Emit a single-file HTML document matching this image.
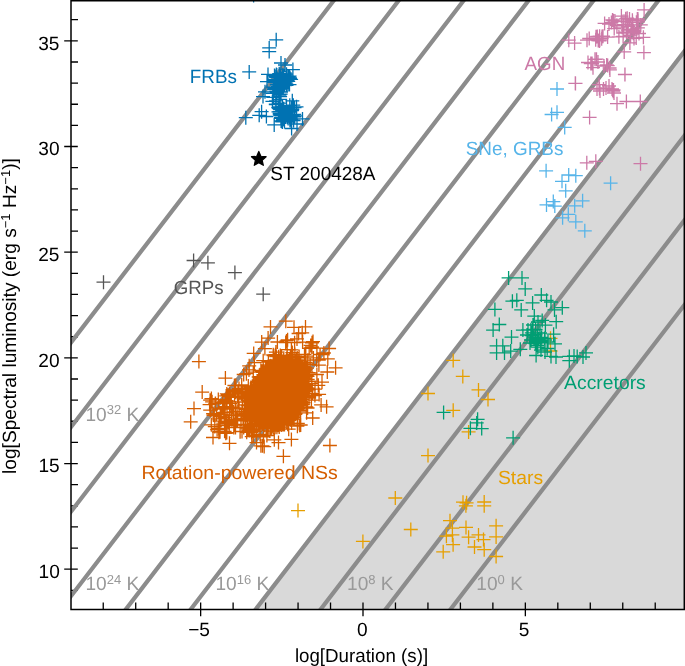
<!DOCTYPE html>
<html><head><meta charset="utf-8"><style>
html,body{margin:0;padding:0;background:#fff;width:685px;height:666px;overflow:hidden;font-family:"Liberation Sans",sans-serif;}
svg{display:block;will-change:transform}
</style></head><body>
<svg width="685" height="666" viewBox="0 0 685 666" style="text-rendering:geometricPrecision">
<defs><clipPath id="ax"><rect x="71.0" y="0.7" width="613.3" height="608.6999999999999"/></clipPath></defs>
<rect x="0" y="0" width="685" height="666" fill="#fff"/>
<path d="M255.65,609.40L684.30,51.40L684.3,51.40L684.3,609.4Z" fill="#d9d9d9" clip-path="url(#ax)"/>
<path d="M71.0,590.33H78.0M64.2,569.20H77.8M71.0,548.07H78.0M71.0,526.93H78.0M71.0,505.80H78.0M71.0,484.66H78.0M64.2,463.53H77.8M71.0,442.40H78.0M71.0,421.26H78.0M71.0,400.13H78.0M71.0,378.99H78.0M64.2,357.86H77.8M71.0,336.73H78.0M71.0,315.59H78.0M71.0,294.46H78.0M71.0,273.32H78.0M64.2,252.19H77.8M71.0,231.06H78.0M71.0,209.92H78.0M71.0,188.79H78.0M71.0,167.65H78.0M64.2,146.52H77.8M71.0,125.39H78.0M71.0,104.25H78.0M71.0,83.12H78.0M71.0,61.98H78.0M64.2,40.85H77.8M71.0,19.72H78.0M103.24,609.4V602.4M135.71,609.4V602.4M168.18,609.4V602.4M200.65,602.6V616.2M233.12,609.4V602.4M265.59,609.4V602.4M298.06,609.4V602.4M330.53,609.4V602.4M363.00,602.6V616.2M395.47,609.4V602.4M427.94,609.4V602.4M460.41,609.4V602.4M492.88,609.4V602.4M525.35,602.6V616.2M557.82,609.4V602.4M590.29,609.4V602.4M622.76,609.4V602.4M655.23,609.4V602.4" stroke="#000" stroke-width="1.3" fill="none"/>
<path d="M38.53,1145.65L716.77,262.74M38.53,1061.11L716.77,178.21M38.53,976.58L716.77,93.67M38.53,892.04L716.77,9.14M38.53,807.50L716.77,-75.40M38.53,722.97L716.77,-159.94M38.53,638.43L716.77,-244.47M38.53,553.90L716.77,-329.01M38.53,469.36L716.77,-413.54M38.53,384.82L716.77,-498.08" stroke="#8c8c8c" stroke-width="4.2" fill="none" clip-path="url(#ax)"/>
<path d="M269.2,39.8h14M276.2,32.8v14M262.2,47.9h14M269.2,40.9v14M262.2,51.6h14M269.2,44.6v14M242.2,71.9h14M249.2,64.9v14M246.6,-4.5h14M253.6,-11.5v14M238.8,117.7h14M245.8,110.7v14M281.7,77.5h14M288.7,70.5v14M273.0,75.9h14M280.0,68.9v14M276.8,75.4h14M283.8,68.4v14M268.4,79.5h14M275.4,72.5v14M276.7,75.6h14M283.7,68.6v14M276.5,78.3h14M283.5,71.3v14M275.6,75.2h14M282.6,68.2v14M279.7,75.8h14M286.7,68.8v14M272.5,87.5h14M279.5,80.5v14M266.1,87.1h14M273.1,80.1v14M282.5,84.6h14M289.5,77.6v14M269.4,74.5h14M276.4,67.5v14M273.9,86.3h14M280.9,79.3v14M277.0,84.0h14M284.0,77.0v14M270.4,80.9h14M277.4,73.9v14M279.5,85.4h14M286.5,78.4v14M281.3,76.5h14M288.3,69.5v14M282.6,76.2h14M289.6,69.2v14M281.2,81.3h14M288.2,74.3v14M269.5,81.8h14M276.5,74.8v14M275.8,87.4h14M282.8,80.4v14M268.9,76.4h14M275.9,69.4v14M276.2,75.4h14M283.2,68.4v14M272.2,73.7h14M279.2,66.7v14M279.5,74.2h14M286.5,67.2v14M281.0,84.6h14M288.0,77.6v14M273.0,83.2h14M280.0,76.2v14M280.5,80.2h14M287.5,73.2v14M267.2,82.4h14M274.2,75.4v14M272.2,82.2h14M279.2,75.2v14M274.0,87.3h14M281.0,80.3v14M269.8,84.5h14M276.8,77.5v14M279.3,81.3h14M286.3,74.3v14M267.5,75.5h14M274.5,68.5v14M269.1,77.3h14M276.1,70.3v14M276.2,80.8h14M283.2,73.8v14M275.4,75.8h14M282.4,68.8v14M277.5,85.0h14M284.5,78.0v14M267.8,80.6h14M274.8,73.6v14M273.7,84.9h14M280.7,77.9v14M284.1,79.3h14M291.1,72.3v14M270.6,86.2h14M277.6,79.2v14M273.5,75.7h14M280.5,68.7v14M278.9,80.8h14M285.9,73.8v14M270.7,79.2h14M277.7,72.2v14M279.1,77.9h14M286.1,70.9v14M267.3,79.9h14M274.3,72.9v14M269.7,82.3h14M276.7,75.3v14M269.8,75.0h14M276.8,68.0v14M283.0,78.0h14M290.0,71.0v14M271.6,81.1h14M278.6,74.1v14M279.2,83.1h14M286.2,76.1v14M281.2,76.9h14M288.2,69.9v14M274.1,78.5h14M281.1,71.5v14M275.8,81.6h14M282.8,74.6v14M271.9,89.2h14M278.9,82.2v14M269.1,100.8h14M276.1,93.8v14M265.4,101.4h14M272.4,94.4v14M272.5,95.2h14M279.5,88.2v14M269.9,92.8h14M276.9,85.8v14M273.1,96.6h14M280.1,89.6v14M267.9,88.5h14M274.9,81.5v14M268.8,104.6h14M275.8,97.6v14M272.4,99.3h14M279.4,92.3v14M275.3,88.6h14M282.3,81.6v14M271.6,91.4h14M278.6,84.4v14M269.4,91.3h14M276.4,84.3v14M268.8,104.2h14M275.8,97.2v14M273.0,103.2h14M280.0,96.2v14M265.8,93.4h14M272.8,86.4v14M273.6,88.7h14M280.6,81.7v14M267.1,89.5h14M274.1,82.5v14M274.0,92.2h14M281.0,85.2v14M269.7,88.2h14M276.7,81.2v14M266.3,97.3h14M273.3,90.3v14M273.7,94.1h14M280.7,87.1v14M268.5,88.7h14M275.5,81.7v14M272.8,107.5h14M279.8,100.5v14M274.7,114.7h14M281.7,107.7v14M277.5,121.6h14M284.5,114.6v14M276.1,119.6h14M283.1,112.6v14M272.7,114.0h14M279.7,107.0v14M280.9,116.2h14M287.9,109.2v14M278.4,113.9h14M285.4,106.9v14M285.0,107.6h14M292.0,100.6v14M280.6,115.0h14M287.6,108.0v14M285.1,107.8h14M292.1,100.8v14M282.9,119.8h14M289.9,112.8v14M277.4,118.9h14M284.4,111.9v14M282.8,105.3h14M289.8,98.3v14M279.5,105.8h14M286.5,98.8v14M276.6,118.6h14M283.6,111.6v14M273.3,114.6h14M280.3,107.6v14M272.0,106.9h14M279.0,99.9v14M274.1,121.0h14M281.1,114.0v14M276.6,108.7h14M283.6,101.7v14M272.7,113.5h14M279.7,106.5v14M272.1,108.7h14M279.1,101.7v14M275.0,117.7h14M282.0,110.7v14M273.9,115.0h14M280.9,108.0v14M275.4,121.9h14M282.4,114.9v14M287.2,114.4h14M294.2,107.4v14M287.8,115.9h14M294.8,108.9v14M273.9,117.4h14M280.9,110.4v14M286.3,105.2h14M293.3,98.2v14M274.5,118.3h14M281.5,111.3v14M284.8,114.5h14M291.8,107.5v14M273.2,109.5h14M280.2,102.5v14M275.2,121.7h14M282.2,114.7v14M275.1,111.3h14M282.1,104.3v14M283.4,116.3h14M290.4,109.3v14M281.1,116.1h14M288.1,109.1v14M286.6,120.5h14M293.6,113.5v14M277.6,111.8h14M284.6,104.8v14M283.3,112.2h14M290.3,105.2v14M273.0,109.2h14M280.0,102.2v14M276.5,114.6h14M283.5,107.6v14M274.1,117.4h14M281.1,110.4v14M281.3,115.8h14M288.3,108.8v14M285.4,115.7h14M292.4,108.7v14M280.3,117.2h14M287.3,110.2v14M287.2,116.8h14M294.2,109.8v14M274.6,115.6h14M281.6,108.6v14M271.5,111.8h14M278.5,104.8v14M274.9,114.5h14M281.9,107.5v14M275.5,106.6h14M282.5,99.6v14M285.3,109.3h14M292.3,102.3v14M281.1,118.4h14M288.1,111.4v14M285.1,110.6h14M292.1,103.6v14M273.3,115.4h14M280.3,108.4v14M276.5,109.9h14M283.5,102.9v14M274.8,111.7h14M281.8,104.7v14M283.3,111.8h14M290.3,104.8v14M282.6,117.4h14M289.6,110.4v14M285.6,114.7h14M292.6,107.7v14M280.7,116.2h14M287.7,109.2v14M287.5,107.7h14M294.5,100.7v14M278.6,117.0h14M285.6,110.0v14M284.2,119.1h14M291.2,112.1v14M275.8,110.4h14M282.8,103.4v14M278.4,111.7h14M285.4,104.7v14M272.7,111.6h14M279.7,104.6v14M282.6,117.6h14M289.6,110.6v14M275.1,115.6h14M282.1,108.6v14M284.5,107.6h14M291.5,100.6v14M271.3,107.7h14M278.3,100.7v14M283.2,120.5h14M290.2,113.5v14M274.0,63.0h14M281.0,56.0v14M278.0,65.0h14M285.0,58.0v14M285.9,69.6h14M292.9,62.6v14M261.0,74.4h14M268.0,67.4v14M260.0,81.6h14M267.0,74.6v14M258.0,91.8h14M265.0,84.8v14M256.0,96.6h14M263.0,89.6v14M285.3,100.8h14M292.3,93.8v14M289.5,106.8h14M296.5,99.8v14M254.6,111.7h14M261.6,104.7v14M252.2,115.3h14M259.2,108.3v14M259.4,116.5h14M266.4,109.5v14M267.2,124.9h14M274.2,117.9v14M284.6,128.5h14M291.6,121.5v14M295.5,118.9h14M302.5,111.9v14M290.0,124.0h14M297.0,117.0v14" stroke="#0072B2" stroke-width="1.3" fill="none" clip-path="url(#ax)"/>
<path d="M96.5,282.2h14M103.5,275.2v14M186.6,260.5h14M193.6,253.5v14M200.9,262.8h14M207.9,255.8v14M227.9,272.6h14M234.9,265.6v14M256.2,294.2h14M263.2,287.2v14" stroke="#555555" stroke-width="1.3" fill="none" clip-path="url(#ax)"/>
<path d="M637.1,9.9h14M644.1,2.9v14M614.4,16.1h14M621.4,9.1v14M597.6,23.4h14M604.6,16.4v14M602.0,24.1h14M609.0,17.1v14M561.8,40.2h14M568.8,33.2v14M567.6,43.1h14M574.6,36.1v14M580.0,40.2h14M587.0,33.2v14M590.3,36.5h14M597.3,29.5v14M594.7,38.7h14M601.7,31.7v14M636.9,52.6h14M643.9,45.6v14M617.2,51.9h14M624.2,44.9v14M585.1,63.6h14M592.1,56.6v14M589.5,59.2h14M596.5,52.2v14M599.7,65.0h14M606.7,58.0v14M602.6,68.0h14M609.6,61.0v14M618.0,74.5h14M625.0,67.5v14M568.3,83.3h14M575.3,76.3v14M592.4,88.4h14M599.4,81.4v14M605.6,89.9h14M612.6,82.9v14M610.0,103.7h14M617.0,96.7v14M619.4,101.5h14M626.4,94.5v14M633.3,101.5h14M640.3,94.5v14M568.5,83.4h14M575.5,76.4v14M582.6,117.4h14M589.6,110.4v14M606.2,91.2h14M613.2,84.2v14M617.9,74.4h14M624.9,67.4v14M579.8,162.8h14M586.8,155.8v14M588.8,161.3h14M595.8,154.3v14M633.5,163.7h14M640.5,156.7v14M606.5,90.0h14M613.5,83.0v14M616.6,24.7h14M623.6,17.7v14M625.0,24.8h14M632.0,17.8v14M604.4,22.6h14M611.4,15.6v14M624.0,29.2h14M631.0,22.2v14M615.1,27.2h14M622.1,20.2v14M616.1,36.4h14M623.1,29.4v14M622.9,42.9h14M629.9,35.9v14M630.9,19.1h14M637.9,12.1v14M629.4,22.2h14M636.4,15.2v14M620.8,30.2h14M627.8,23.2v14M632.0,33.5h14M639.0,26.5v14M633.8,24.9h14M640.8,17.9v14M606.4,20.8h14M613.4,13.8v14M627.0,38.4h14M634.0,31.4v14M630.3,18.9h14M637.3,11.9v14M623.6,35.2h14M630.6,28.2v14M607.2,28.6h14M614.2,21.6v14M625.5,22.3h14M632.5,15.3v14M626.5,30.5h14M633.5,23.5v14M607.9,21.1h14M614.9,14.1v14M630.8,22.2h14M637.8,15.2v14M616.2,33.0h14M623.2,26.0v14M626.5,31.0h14M633.5,24.0v14M620.2,18.2h14M627.2,11.2v14M629.2,38.0h14M636.2,31.0v14M615.0,21.6h14M622.0,14.6v14M609.9,25.3h14M616.9,18.3v14M605.5,20.0h14M612.5,13.0v14M619.5,32.1h14M626.5,25.1v14M622.5,19.1h14M629.5,12.1v14M626.9,32.2h14M633.9,25.2v14M611.9,36.8h14M618.9,29.8v14M621.1,26.4h14M628.1,19.4v14M617.0,21.3h14M624.0,14.3v14M625.4,20.3h14M632.4,13.3v14M631.1,20.7h14M638.1,13.7v14M626.2,33.2h14M633.2,26.2v14M630.9,27.8h14M637.9,20.8v14M636.4,37.3h14M643.4,30.3v14M618.7,18.8h14M625.7,11.8v14M592.8,40.1h14M599.8,33.1v14M582.2,38.5h14M589.2,31.5v14M592.6,36.2h14M599.6,29.2v14M588.7,39.7h14M595.7,32.7v14M596.0,36.2h14M603.0,29.2v14M589.0,36.8h14M596.0,29.8v14M595.0,36.4h14M602.0,29.4v14M592.5,40.9h14M599.5,33.9v14M591.2,40.5h14M598.2,33.5v14M600.6,37.1h14M607.6,30.1v14M583.8,63.5h14M590.8,56.5v14M588.0,59.3h14M595.0,52.3v14M600.7,65.6h14M607.7,58.6v14M602.9,69.9h14M609.9,62.9v14M586.0,67.7h14M593.0,60.7v14M591.0,62.0h14M598.0,55.0v14M597.0,66.0h14M604.0,59.0v14M581.0,62.5h14M588.0,55.5v14M592.0,84.7h14M599.0,77.7v14M596.5,89.0h14M603.5,82.0v14M605.0,89.0h14M612.0,82.0v14M607.0,93.0h14M614.0,86.0v14M590.0,89.0h14M597.0,82.0v14M593.0,91.0h14M600.0,84.0v14M599.0,88.0h14M606.0,81.0v14M602.0,86.0h14M609.0,79.0v14" stroke="#CC79A7" stroke-width="1.3" fill="none" clip-path="url(#ax)"/>
<path d="M550.0,89.0h14M557.0,82.0v14M550.0,112.3h14M557.0,105.3v14M544.6,114.5h14M551.6,107.5v14M557.7,127.4h14M564.7,120.4v14M539.1,170.8h14M546.1,163.8v14M555.0,181.3h14M562.0,174.3v14M561.7,175.0h14M568.7,168.0v14M568.8,175.7h14M575.8,168.7v14M558.7,190.8h14M565.7,183.8v14M603.6,183.2h14M610.6,176.2v14M539.5,204.9h14M546.5,197.9v14M546.3,201.6h14M553.3,194.6v14M547.8,206.1h14M554.8,199.1v14M575.6,200.8h14M582.6,193.8v14M567.7,205.8h14M574.7,198.8v14M555.6,217.8h14M562.6,210.8v14M561.3,214.3h14M568.3,207.3v14M568.8,221.8h14M575.8,214.8v14M577.8,230.8h14M584.8,223.8v14" stroke="#56B4E9" stroke-width="1.3" fill="none" clip-path="url(#ax)"/>
<path d="M191.9,361.6h14M198.9,354.6v14M218.4,378.1h14M225.4,371.1v14M195.2,392.1h14M202.2,385.1v14M187.0,408.6h14M194.0,401.6v14M183.7,421.8h14M190.7,414.8v14M227.4,385.5h14M234.4,378.5v14M206.0,437.5h14M213.0,430.5v14M222.5,443.3h14M229.5,436.3v14M244.8,436.7h14M251.8,429.7v14M253.9,445.8h14M260.9,438.8v14M314.1,404.9h14M321.1,397.9v14M322.9,445.5h14M329.9,438.5v14M276.4,456.3h14M283.4,449.3v14M255.5,445.8h14M262.5,438.8v14M271.5,442.6h14M278.5,435.6v14M284.4,439.4h14M291.4,432.4v14M300.4,408.1h14M307.4,401.1v14M290.8,423.4h14M297.8,416.4v14M263.5,326.9h14M270.5,319.9v14M278.8,321.2h14M285.8,314.2v14M298.5,326.9h14M305.5,319.9v14M322.1,348.5h14M329.1,341.5v14M328.6,367.8h14M335.6,360.8v14M246.7,353.4h14M253.7,346.4v14M254.7,342.1h14M261.7,335.1v14M261.1,338.1h14M268.1,331.1v14M274.8,384.2h14M281.8,377.2v14M254.3,384.3h14M261.3,377.3v14M276.1,396.9h14M283.1,389.9v14M268.0,403.2h14M275.0,396.2v14M297.8,380.9h14M304.8,373.9v14M270.5,365.4h14M277.5,358.4v14M266.4,421.2h14M273.4,414.2v14M276.7,359.7h14M283.7,352.7v14M275.5,366.0h14M282.5,359.0v14M264.2,379.0h14M271.2,372.0v14M256.0,372.3h14M263.0,365.3v14M259.9,373.4h14M266.9,366.4v14M251.2,386.3h14M258.2,379.3v14M253.1,392.4h14M260.1,385.4v14M265.5,403.8h14M272.5,396.8v14M284.8,385.6h14M291.8,378.6v14M290.0,400.0h14M297.0,393.0v14M253.5,390.3h14M260.5,383.3v14M273.1,377.1h14M280.1,370.1v14M283.5,361.1h14M290.5,354.1v14M288.4,361.6h14M295.4,354.6v14M278.5,368.1h14M285.5,361.1v14M257.4,375.4h14M264.4,368.4v14M244.2,403.3h14M251.2,396.3v14M261.4,395.2h14M268.4,388.2v14M281.9,392.8h14M288.9,385.8v14M253.1,404.8h14M260.1,397.8v14M287.1,410.7h14M294.1,403.7v14M257.6,411.7h14M264.6,404.7v14M259.7,427.9h14M266.7,420.9v14M262.4,394.2h14M269.4,387.2v14M258.6,394.8h14M265.6,387.8v14M255.2,391.5h14M262.2,384.5v14M300.5,389.3h14M307.5,382.3v14M281.4,362.4h14M288.4,355.4v14M273.7,396.7h14M280.7,389.7v14M292.9,390.2h14M299.9,383.2v14M270.6,390.2h14M277.6,383.2v14M245.2,407.0h14M252.2,400.0v14M291.8,365.1h14M298.8,358.1v14M285.2,407.1h14M292.2,400.1v14M272.1,400.0h14M279.1,393.0v14M256.5,404.5h14M263.5,397.5v14M283.2,399.4h14M290.2,392.4v14M256.7,378.1h14M263.7,371.1v14M256.5,404.1h14M263.5,397.1v14M276.1,370.3h14M283.1,363.3v14M281.3,381.0h14M288.3,374.0v14M272.5,376.2h14M279.5,369.2v14M292.6,406.9h14M299.6,399.9v14M284.7,379.2h14M291.7,372.2v14M278.9,402.4h14M285.9,395.4v14M257.1,406.7h14M264.1,399.7v14M281.2,412.9h14M288.2,405.9v14M249.3,421.3h14M256.3,414.3v14M276.7,379.2h14M283.7,372.2v14M286.6,385.9h14M293.6,378.9v14M264.2,419.0h14M271.2,412.0v14M263.6,377.0h14M270.6,370.0v14M279.3,422.1h14M286.3,415.1v14M259.2,401.4h14M266.2,394.4v14M297.7,379.1h14M304.7,372.1v14M263.6,380.9h14M270.6,373.9v14M296.4,375.2h14M303.4,368.2v14M255.1,386.4h14M262.1,379.4v14M294.2,402.8h14M301.2,395.8v14M268.9,381.0h14M275.9,374.0v14M269.2,423.5h14M276.2,416.5v14M263.9,402.9h14M270.9,395.9v14M271.5,379.0h14M278.5,372.0v14M265.5,398.9h14M272.5,391.9v14M253.4,387.4h14M260.4,380.4v14M280.6,384.9h14M287.6,377.9v14M280.2,410.5h14M287.2,403.5v14M276.3,394.2h14M283.3,387.2v14M294.0,381.4h14M301.0,374.4v14M264.0,408.4h14M271.0,401.4v14M301.7,381.5h14M308.7,374.5v14M299.8,375.7h14M306.8,368.7v14M256.9,370.8h14M263.9,363.8v14M277.8,407.1h14M284.8,400.1v14M288.7,393.2h14M295.7,386.2v14M249.7,385.0h14M256.7,378.0v14M297.4,390.5h14M304.4,383.5v14M276.5,393.3h14M283.5,386.3v14M250.2,416.0h14M257.2,409.0v14M290.2,394.2h14M297.2,387.2v14M282.0,412.9h14M289.0,405.9v14M278.7,388.4h14M285.7,381.4v14M271.3,417.8h14M278.3,410.8v14M256.4,415.4h14M263.4,408.4v14M286.0,365.1h14M293.0,358.1v14M255.3,395.8h14M262.3,388.8v14M297.9,369.7h14M304.9,362.7v14M298.7,370.0h14M305.7,363.0v14M289.8,408.0h14M296.8,401.0v14M291.1,410.0h14M298.1,403.0v14M281.0,393.6h14M288.0,386.6v14M255.2,399.6h14M262.2,392.6v14M247.8,413.3h14M254.8,406.3v14M272.8,361.9h14M279.8,354.9v14M245.5,409.8h14M252.5,402.8v14M285.3,416.1h14M292.3,409.1v14M271.7,386.6h14M278.7,379.6v14M295.7,390.0h14M302.7,383.0v14M294.9,399.7h14M301.9,392.7v14M282.2,397.2h14M289.2,390.2v14M296.3,374.9h14M303.3,367.9v14M283.1,385.1h14M290.1,378.1v14M273.9,380.2h14M280.9,373.2v14M294.2,390.3h14M301.2,383.3v14M295.8,374.4h14M302.8,367.4v14M259.6,370.8h14M266.6,363.8v14M264.8,403.5h14M271.8,396.5v14M252.3,398.6h14M259.3,391.6v14M283.8,409.6h14M290.8,402.6v14M284.7,419.3h14M291.7,412.3v14M251.8,424.2h14M258.8,417.2v14M292.6,384.4h14M299.6,377.4v14M260.7,423.4h14M267.7,416.4v14M253.8,417.7h14M260.8,410.7v14M247.0,397.9h14M254.0,390.9v14M265.6,399.8h14M272.6,392.8v14M268.7,384.0h14M275.7,377.0v14M249.8,417.8h14M256.8,410.8v14M251.7,379.8h14M258.7,372.8v14M272.1,361.2h14M279.1,354.2v14M255.4,380.8h14M262.4,373.8v14M288.1,397.0h14M295.1,390.0v14M285.6,381.0h14M292.6,374.0v14M262.3,367.3h14M269.3,360.3v14M253.1,404.9h14M260.1,397.9v14M274.8,377.8h14M281.8,370.8v14M269.0,400.7h14M276.0,393.7v14M297.6,384.3h14M304.6,377.3v14M275.4,364.6h14M282.4,357.6v14M270.5,424.8h14M277.5,417.8v14M269.9,427.2h14M276.9,420.2v14M270.6,413.5h14M277.6,406.5v14M289.4,379.3h14M296.4,372.3v14M287.5,410.8h14M294.5,403.8v14M260.8,389.6h14M267.8,382.6v14M286.7,402.8h14M293.7,395.8v14M245.3,403.5h14M252.3,396.5v14M284.4,363.1h14M291.4,356.1v14M262.3,392.2h14M269.3,385.2v14M280.5,419.0h14M287.5,412.0v14M272.5,366.7h14M279.5,359.7v14M300.3,388.1h14M307.3,381.1v14M292.1,410.3h14M299.1,403.3v14M274.1,363.4h14M281.1,356.4v14M254.6,402.4h14M261.6,395.4v14M274.3,425.0h14M281.3,418.0v14M293.3,386.7h14M300.3,379.7v14M267.1,377.6h14M274.1,370.6v14M247.2,414.8h14M254.2,407.8v14M266.0,386.4h14M273.0,379.4v14M257.9,403.2h14M264.9,396.2v14M261.1,378.8h14M268.1,371.8v14M276.9,424.4h14M283.9,417.4v14M275.6,372.5h14M282.6,365.5v14M267.9,411.9h14M274.9,404.9v14M277.1,400.1h14M284.1,393.1v14M277.6,407.6h14M284.6,400.6v14M251.9,380.3h14M258.9,373.3v14M296.3,390.4h14M303.3,383.4v14M256.8,385.7h14M263.8,378.7v14M251.9,398.7h14M258.9,391.7v14M295.9,375.9h14M302.9,368.9v14M256.7,401.8h14M263.7,394.8v14M256.9,416.6h14M263.9,409.6v14M267.0,363.1h14M274.0,356.1v14M282.2,377.2h14M289.2,370.2v14M284.8,412.8h14M291.8,405.8v14M268.4,382.1h14M275.4,375.1v14M270.8,374.5h14M277.8,367.5v14M251.0,413.0h14M258.0,406.0v14M287.6,404.0h14M294.6,397.0v14M255.0,385.7h14M262.0,378.7v14M292.7,375.2h14M299.7,368.2v14M292.9,399.6h14M299.9,392.6v14M264.4,396.6h14M271.4,389.6v14M266.1,427.7h14M273.1,420.7v14M297.9,395.8h14M304.9,388.8v14M251.4,423.9h14M258.4,416.9v14M266.9,395.1h14M273.9,388.1v14M263.1,427.1h14M270.1,420.1v14M262.9,403.7h14M269.9,396.7v14M271.5,363.1h14M278.5,356.1v14M262.7,386.5h14M269.7,379.5v14M279.0,386.7h14M286.0,379.7v14M260.4,371.9h14M267.4,364.9v14M285.2,388.1h14M292.2,381.1v14M299.0,376.6h14M306.0,369.6v14M283.2,373.8h14M290.2,366.8v14M264.2,426.0h14M271.2,419.0v14M293.4,398.7h14M300.4,391.7v14M251.3,401.8h14M258.3,394.8v14M294.3,385.6h14M301.3,378.6v14M295.8,367.1h14M302.8,360.1v14M268.3,408.9h14M275.3,401.9v14M258.5,380.9h14M265.5,373.9v14M275.9,393.6h14M282.9,386.6v14M267.8,368.5h14M274.8,361.5v14M254.2,378.5h14M261.2,371.5v14M259.5,382.3h14M266.5,375.3v14M260.5,405.7h14M267.5,398.7v14M253.2,403.7h14M260.2,396.7v14M266.1,405.8h14M273.1,398.8v14M268.7,362.3h14M275.7,355.3v14M278.8,401.1h14M285.8,394.1v14M284.8,396.6h14M291.8,389.6v14M281.4,389.6h14M288.4,382.6v14M273.4,385.8h14M280.4,378.8v14M253.1,384.1h14M260.1,377.1v14M262.2,379.1h14M269.2,372.1v14M275.2,378.3h14M282.2,371.3v14M267.7,376.6h14M274.7,369.6v14M267.1,422.2h14M274.1,415.2v14M271.3,364.1h14M278.3,357.1v14M294.3,382.5h14M301.3,375.5v14M279.6,371.5h14M286.6,364.5v14M290.5,367.2h14M297.5,360.2v14M261.3,425.0h14M268.3,418.0v14M250.7,381.5h14M257.7,374.5v14M281.1,413.3h14M288.1,406.3v14M297.2,395.1h14M304.2,388.1v14M267.7,368.2h14M274.7,361.2v14M276.7,363.2h14M283.7,356.2v14M263.3,367.0h14M270.3,360.0v14M300.5,376.4h14M307.5,369.4v14M276.3,393.7h14M283.3,386.7v14M256.8,408.5h14M263.8,401.5v14M255.6,414.0h14M262.6,407.0v14M266.2,420.6h14M273.2,413.6v14M266.1,389.9h14M273.1,382.9v14M288.3,414.3h14M295.3,407.3v14M248.9,392.0h14M255.9,385.0v14M277.5,424.4h14M284.5,417.4v14M251.5,394.4h14M258.5,387.4v14M271.2,386.8h14M278.2,379.8v14M254.2,414.2h14M261.2,407.2v14M285.3,374.7h14M292.3,367.7v14M255.9,417.7h14M262.9,410.7v14M274.0,381.3h14M281.0,374.3v14M279.4,415.7h14M286.4,408.7v14M292.4,373.0h14M299.4,366.0v14M270.9,423.5h14M277.9,416.5v14M287.6,391.5h14M294.6,384.5v14M284.3,378.7h14M291.3,371.7v14M284.4,409.0h14M291.4,402.0v14M252.7,399.1h14M259.7,392.1v14M270.3,418.0h14M277.3,411.0v14M273.3,397.5h14M280.3,390.5v14M272.3,399.8h14M279.3,392.8v14M272.4,403.8h14M279.4,396.8v14M285.9,360.0h14M292.9,353.0v14M246.8,409.2h14M253.8,402.2v14M275.8,417.6h14M282.8,410.6v14M265.9,413.1h14M272.9,406.1v14M284.6,362.4h14M291.6,355.4v14M281.4,420.1h14M288.4,413.1v14M259.2,403.2h14M266.2,396.2v14M249.0,406.8h14M256.0,399.8v14M279.9,373.5h14M286.9,366.5v14M260.0,402.5h14M267.0,395.5v14M255.9,399.4h14M262.9,392.4v14M277.8,415.4h14M284.8,408.4v14M251.2,415.4h14M258.2,408.4v14M300.7,379.3h14M307.7,372.3v14M285.4,360.8h14M292.4,353.8v14M278.2,369.4h14M285.2,362.4v14M251.2,409.8h14M258.2,402.8v14M270.7,397.8h14M277.7,390.8v14M263.3,413.7h14M270.3,406.7v14M296.1,373.8h14M303.1,366.8v14M285.9,394.3h14M292.9,387.3v14M251.8,417.5h14M258.8,410.5v14M300.0,374.5h14M307.0,367.5v14M261.1,402.5h14M268.1,395.5v14M269.0,364.9h14M276.0,357.9v14M273.4,397.1h14M280.4,390.1v14M251.7,408.8h14M258.7,401.8v14M283.9,410.1h14M290.9,403.1v14M259.9,410.1h14M266.9,403.1v14M269.9,400.5h14M276.9,393.5v14M273.7,386.4h14M280.7,379.4v14M275.6,412.1h14M282.6,405.1v14M265.7,419.4h14M272.7,412.4v14M253.2,382.5h14M260.2,375.5v14M265.6,389.0h14M272.6,382.0v14M253.2,424.6h14M260.2,417.6v14M244.4,403.3h14M251.4,396.3v14M282.1,381.8h14M289.1,374.8v14M278.5,405.3h14M285.5,398.3v14M280.3,364.4h14M287.3,357.4v14M291.9,400.8h14M298.9,393.8v14M262.4,407.5h14M269.4,400.5v14M266.1,390.5h14M273.1,383.5v14M288.4,396.0h14M295.4,389.0v14M282.3,365.9h14M289.3,358.9v14M277.6,414.1h14M284.6,407.1v14M269.9,373.8h14M276.9,366.8v14M259.4,390.6h14M266.4,383.6v14M260.5,384.3h14M267.5,377.3v14M246.9,416.1h14M253.9,409.1v14M249.1,415.8h14M256.1,408.8v14M258.2,399.9h14M265.2,392.9v14M283.1,418.9h14M290.1,411.9v14M250.1,382.4h14M257.1,375.4v14M252.8,384.9h14M259.8,377.9v14M296.4,402.7h14M303.4,395.7v14M263.3,392.8h14M270.3,385.8v14M251.8,405.0h14M258.8,398.0v14M286.9,377.0h14M293.9,370.0v14M284.9,368.3h14M291.9,361.3v14M265.5,425.7h14M272.5,418.7v14M251.1,417.9h14M258.1,410.9v14M265.8,421.2h14M272.8,414.2v14M289.6,381.5h14M296.6,374.5v14M295.7,386.7h14M302.7,379.7v14M263.5,406.2h14M270.5,399.2v14M269.9,387.5h14M276.9,380.5v14M270.8,395.1h14M277.8,388.1v14M252.4,380.6h14M259.4,373.6v14M272.9,423.2h14M279.9,416.2v14M272.6,361.3h14M279.6,354.3v14M246.9,412.5h14M253.9,405.5v14M283.9,366.2h14M290.9,359.2v14M289.9,360.8h14M296.9,353.8v14M271.5,425.2h14M278.5,418.2v14M268.4,423.3h14M275.4,416.3v14M280.8,370.1h14M287.8,363.1v14M299.1,376.0h14M306.1,369.0v14M262.0,380.7h14M269.0,373.7v14M286.8,402.3h14M293.8,395.3v14M268.1,426.7h14M275.1,419.7v14M268.8,406.7h14M275.8,399.7v14M264.4,427.7h14M271.4,420.7v14M269.1,361.8h14M276.1,354.8v14M264.1,428.2h14M271.1,421.2v14M274.7,413.6h14M281.7,406.6v14M267.3,405.8h14M274.3,398.8v14M246.6,401.3h14M253.6,394.3v14M253.0,415.8h14M260.0,408.8v14M259.3,423.4h14M266.3,416.4v14M257.1,425.1h14M264.1,418.1v14M245.3,394.0h14M252.3,387.0v14M259.7,427.1h14M266.7,420.1v14M265.9,371.0h14M272.9,364.0v14M256.5,378.1h14M263.5,371.1v14M286.3,403.0h14M293.3,396.0v14M260.3,413.0h14M267.3,406.0v14M276.7,360.3h14M283.7,353.3v14M277.6,414.9h14M284.6,407.9v14M276.5,363.2h14M283.5,356.2v14M262.1,394.8h14M269.1,387.8v14M254.2,409.5h14M261.2,402.5v14M288.5,372.1h14M295.5,365.1v14M288.5,371.7h14M295.5,364.7v14M281.8,382.4h14M288.8,375.4v14M262.3,412.1h14M269.3,405.1v14M255.0,396.8h14M262.0,389.8v14M285.7,415.6h14M292.7,408.6v14M264.3,384.5h14M271.3,377.5v14M258.9,397.1h14M265.9,390.1v14M284.2,374.2h14M291.2,367.2v14M283.3,399.8h14M290.3,392.8v14M296.9,372.1h14M303.9,365.1v14M293.7,365.5h14M300.7,358.5v14M290.0,372.8h14M297.0,365.8v14M289.5,397.5h14M296.5,390.5v14M286.9,405.0h14M293.9,398.0v14M267.3,370.0h14M274.3,363.0v14M269.9,375.5h14M276.9,368.5v14M291.2,408.4h14M298.2,401.4v14M265.6,411.7h14M272.6,404.7v14M255.7,389.0h14M262.7,382.0v14M271.0,375.1h14M278.0,368.1v14M263.0,391.8h14M270.0,384.8v14M270.0,378.0h14M277.0,371.0v14M259.3,368.5h14M266.3,361.5v14M294.3,369.2h14M301.3,362.2v14M284.0,407.6h14M291.0,400.6v14M273.0,372.3h14M280.0,365.3v14M264.7,423.9h14M271.7,416.9v14M287.2,407.0h14M294.2,400.0v14M275.7,424.6h14M282.7,417.6v14M271.7,362.7h14M278.7,355.7v14M269.5,412.2h14M276.5,405.2v14M264.7,407.1h14M271.7,400.1v14M269.2,388.2h14M276.2,381.2v14M249.7,413.0h14M256.7,406.0v14M297.8,379.4h14M304.8,372.4v14M267.6,424.5h14M274.6,417.5v14M291.6,370.2h14M298.6,363.2v14M293.5,364.3h14M300.5,357.3v14M267.3,392.7h14M274.3,385.7v14M283.4,391.3h14M290.4,384.3v14M284.8,414.3h14M291.8,407.3v14M270.8,375.8h14M277.8,368.8v14M255.2,378.1h14M262.2,371.1v14M260.6,397.4h14M267.6,390.4v14M260.4,369.4h14M267.4,362.4v14M268.7,384.9h14M275.7,377.9v14M248.0,416.2h14M255.0,409.2v14M275.0,414.3h14M282.0,407.3v14M265.9,397.9h14M272.9,390.9v14M290.3,381.4h14M297.3,374.4v14M277.7,362.1h14M284.7,355.1v14M285.9,386.4h14M292.9,379.4v14M275.2,417.6h14M282.2,410.6v14M291.8,367.7h14M298.8,360.7v14M273.0,368.8h14M280.0,361.8v14M277.5,365.7h14M284.5,358.7v14M269.0,407.7h14M276.0,400.7v14M275.4,384.7h14M282.4,377.7v14M296.5,376.9h14M303.5,369.9v14M291.5,400.7h14M298.5,393.7v14M264.4,397.0h14M271.4,390.0v14M271.5,375.9h14M278.5,368.9v14M292.1,376.7h14M299.1,369.7v14M272.7,396.9h14M279.7,389.9v14M290.9,363.8h14M297.9,356.8v14M256.1,418.1h14M263.1,411.1v14M287.1,417.4h14M294.1,410.4v14M266.2,394.8h14M273.2,387.8v14M294.7,381.7h14M301.7,374.7v14M266.3,425.6h14M273.3,418.6v14M292.2,365.9h14M299.2,358.9v14M284.9,418.5h14M291.9,411.5v14M257.0,422.0h14M264.0,415.0v14M264.7,414.6h14M271.7,407.6v14M287.0,408.9h14M294.0,401.9v14M256.2,420.8h14M263.2,413.8v14M247.5,397.7h14M254.5,390.7v14M292.2,373.5h14M299.2,366.5v14M269.2,403.7h14M276.2,396.7v14M250.9,385.8h14M257.9,378.8v14M245.5,393.0h14M252.5,386.0v14M273.7,369.1h14M280.7,362.1v14M288.8,371.4h14M295.8,364.4v14M283.7,404.0h14M290.7,397.0v14M291.5,366.8h14M298.5,359.8v14M282.3,396.2h14M289.3,389.2v14M284.2,369.2h14M291.2,362.2v14M267.9,379.2h14M274.9,372.2v14M284.8,379.5h14M291.8,372.5v14M291.8,360.8h14M298.8,353.8v14M275.5,420.8h14M282.5,413.8v14M254.3,387.3h14M261.3,380.3v14M289.3,361.9h14M296.3,354.9v14M247.4,408.0h14M254.4,401.0v14M283.8,419.9h14M290.8,412.9v14M272.3,375.3h14M279.3,368.3v14M281.9,403.1h14M288.9,396.1v14M256.1,401.8h14M263.1,394.8v14M296.0,376.7h14M303.0,369.7v14M272.2,371.4h14M279.2,364.4v14M300.4,389.9h14M307.4,382.9v14M285.5,393.6h14M292.5,386.6v14M259.8,413.9h14M266.8,406.9v14M284.6,396.6h14M291.6,389.6v14M261.6,385.3h14M268.6,378.3v14M289.6,360.0h14M296.6,353.0v14M288.9,413.0h14M295.9,406.0v14M289.3,386.2h14M296.3,379.2v14M256.7,424.2h14M263.7,417.2v14M263.9,387.8h14M270.9,380.8v14M263.5,423.4h14M270.5,416.4v14M258.5,408.2h14M265.5,401.2v14M261.9,373.4h14M268.9,366.4v14M298.5,376.6h14M305.5,369.6v14M249.3,413.3h14M256.3,406.3v14M258.5,371.3h14M265.5,364.3v14M271.3,368.3h14M278.3,361.3v14M266.4,368.2h14M273.4,361.2v14M285.8,388.3h14M292.8,381.3v14M263.0,375.7h14M270.0,368.7v14M260.4,389.3h14M267.4,382.3v14M259.0,400.8h14M266.0,393.8v14M282.2,406.9h14M289.2,399.9v14M292.9,368.7h14M299.9,361.7v14M286.1,363.4h14M293.1,356.4v14M270.7,392.2h14M277.7,385.2v14M298.1,367.4h14M305.1,360.4v14M268.4,390.2h14M275.4,383.2v14M271.5,391.9h14M278.5,384.9v14M252.2,381.3h14M259.2,374.3v14M294.8,376.7h14M301.8,369.7v14M286.6,389.3h14M293.6,382.3v14M281.0,370.7h14M288.0,363.7v14M263.7,381.8h14M270.7,374.8v14M282.0,392.9h14M289.0,385.9v14M261.3,381.4h14M268.3,374.4v14M273.8,400.2h14M280.8,393.2v14M275.6,407.0h14M282.6,400.0v14M267.5,400.1h14M274.5,393.1v14M263.8,413.8h14M270.8,406.8v14M250.1,405.2h14M257.1,398.2v14M276.8,401.1h14M283.8,394.1v14M261.0,385.4h14M268.0,378.4v14M284.8,393.2h14M291.8,386.2v14M245.3,403.0h14M252.3,396.0v14M278.9,364.5h14M285.9,357.5v14M274.7,388.6h14M281.7,381.6v14M264.9,387.7h14M271.9,380.7v14M269.7,421.2h14M276.7,414.2v14M299.4,391.6h14M306.4,384.6v14M289.0,401.7h14M296.0,394.7v14M295.5,404.7h14M302.5,397.7v14M251.9,410.5h14M258.9,403.5v14M279.0,373.0h14M286.0,366.0v14M293.0,398.2h14M300.0,391.2v14M261.2,428.3h14M268.2,421.3v14M269.9,390.9h14M276.9,383.9v14M287.6,401.3h14M294.6,394.3v14M290.6,369.2h14M297.6,362.2v14M290.7,404.8h14M297.7,397.8v14M262.0,392.0h14M269.0,385.0v14M279.6,398.4h14M286.6,391.4v14M274.8,416.8h14M281.8,409.8v14M248.3,390.7h14M255.3,383.7v14M297.7,389.1h14M304.7,382.1v14M244.7,397.3h14M251.7,390.3v14M285.0,391.8h14M292.0,384.8v14M270.1,388.6h14M277.1,381.6v14M267.8,427.4h14M274.8,420.4v14M259.1,427.9h14M266.1,420.9v14M256.6,418.9h14M263.6,411.9v14M264.3,381.3h14M271.3,374.3v14M270.9,370.0h14M277.9,363.0v14M281.1,365.8h14M288.1,358.8v14M277.4,379.3h14M284.4,372.3v14M247.9,395.1h14M254.9,388.1v14M256.4,374.6h14M263.4,367.6v14M267.6,392.8h14M274.6,385.8v14M254.2,400.9h14M261.2,393.9v14M290.0,403.2h14M297.0,396.2v14M274.6,368.6h14M281.6,361.6v14M282.4,389.8h14M289.4,382.8v14M286.7,381.1h14M293.7,374.1v14M272.4,367.8h14M279.4,360.8v14M254.9,377.5h14M261.9,370.5v14M266.2,382.4h14M273.2,375.4v14M264.4,410.9h14M271.4,403.9v14M265.7,388.5h14M272.7,381.5v14M286.1,390.7h14M293.1,383.7v14M246.6,414.7h14M253.6,407.7v14M293.7,372.2h14M300.7,365.2v14M262.9,416.3h14M269.9,409.3v14M252.3,393.7h14M259.3,386.7v14M271.1,400.0h14M278.1,393.0v14M296.2,391.8h14M303.2,384.8v14M275.1,405.5h14M282.1,398.5v14M266.9,398.8h14M273.9,391.8v14M290.8,386.3h14M297.8,379.3v14M259.2,398.8h14M266.2,391.8v14M291.5,407.5h14M298.5,400.5v14M253.4,399.7h14M260.4,392.7v14M262.9,393.5h14M269.9,386.5v14M271.0,399.6h14M278.0,392.6v14M271.0,425.2h14M278.0,418.2v14M289.4,390.3h14M296.4,383.3v14M256.0,389.1h14M263.0,382.1v14M298.7,385.8h14M305.7,378.8v14M297.2,372.1h14M304.2,365.1v14M250.1,413.1h14M257.1,406.1v14M258.7,369.0h14M265.7,362.0v14M260.1,404.8h14M267.1,397.8v14M271.2,411.5h14M278.2,404.5v14M279.8,376.3h14M286.8,369.3v14M270.0,370.5h14M277.0,363.5v14M264.9,370.3h14M271.9,363.3v14M290.9,391.4h14M297.9,384.4v14M247.3,417.0h14M254.3,410.0v14M284.6,413.7h14M291.6,406.7v14M253.5,419.8h14M260.5,412.8v14M272.2,388.9h14M279.2,381.9v14M269.7,375.5h14M276.7,368.5v14M288.8,403.9h14M295.8,396.9v14M264.9,412.4h14M271.9,405.4v14M264.9,405.0h14M271.9,398.0v14M248.2,417.7h14M255.2,410.7v14M281.3,383.8h14M288.3,376.8v14M249.9,383.9h14M256.9,376.9v14M263.8,365.8h14M270.8,358.8v14M275.8,377.4h14M282.8,370.4v14M246.7,391.8h14M253.7,384.8v14M293.9,366.5h14M300.9,359.5v14M251.7,395.6h14M258.7,388.6v14M280.3,363.2h14M287.3,356.2v14M258.2,417.3h14M265.2,410.3v14M282.8,409.9h14M289.8,402.9v14M289.8,386.5h14M296.8,379.5v14M299.1,384.7h14M306.1,377.7v14M278.6,398.8h14M285.6,391.8v14M273.4,385.7h14M280.4,378.7v14M261.9,418.6h14M268.9,411.6v14M266.9,387.4h14M273.9,380.4v14M299.0,387.1h14M306.0,380.1v14M267.8,389.4h14M274.8,382.4v14M284.2,398.2h14M291.2,391.2v14M280.9,414.2h14M287.9,407.2v14M288.0,387.2h14M295.0,380.2v14M256.5,376.0h14M263.5,369.0v14M295.1,392.1h14M302.1,385.1v14M294.7,390.1h14M301.7,383.1v14M258.3,415.7h14M265.3,408.7v14M301.3,389.3h14M308.3,382.3v14M252.4,404.5h14M259.4,397.5v14M274.2,380.9h14M281.2,373.9v14M296.1,368.9h14M303.1,361.9v14M298.6,389.8h14M305.6,382.8v14M277.2,401.8h14M284.2,394.8v14M299.5,387.9h14M306.5,380.9v14M262.3,412.7h14M269.3,405.7v14M253.2,421.8h14M260.2,414.8v14M275.4,403.4h14M282.4,396.4v14M294.5,392.0h14M301.5,385.0v14M254.9,402.2h14M261.9,395.2v14M259.7,377.7h14M266.7,370.7v14M264.6,366.3h14M271.6,359.3v14M275.4,365.3h14M282.4,358.3v14M294.4,367.3h14M301.4,360.3v14M269.0,367.6h14M276.0,360.6v14M286.3,385.3h14M293.3,378.3v14M272.0,401.0h14M279.0,394.0v14M290.0,398.9h14M297.0,391.9v14M254.6,383.4h14M261.6,376.4v14M299.4,395.7h14M306.4,388.7v14M246.1,403.2h14M253.1,396.2v14M259.7,384.9h14M266.7,377.9v14M287.7,368.9h14M294.7,361.9v14M278.8,400.5h14M285.8,393.5v14M272.6,400.9h14M279.6,393.9v14M259.7,423.6h14M266.7,416.6v14M262.2,382.0h14M269.2,375.0v14M258.7,412.9h14M265.7,405.9v14M272.6,374.8h14M279.6,367.8v14M286.5,414.9h14M293.5,407.9v14M269.2,411.0h14M276.2,404.0v14M270.9,372.8h14M277.9,365.8v14M276.8,358.3h14M283.8,351.3v14M277.5,393.0h14M284.5,386.0v14M248.3,419.2h14M255.3,412.2v14M251.9,424.0h14M258.9,417.0v14M275.3,376.5h14M282.3,369.5v14M259.8,380.6h14M266.8,373.6v14M254.8,408.7h14M261.8,401.7v14M274.0,414.6h14M281.0,407.6v14M274.2,369.5h14M281.2,362.5v14M278.2,366.7h14M285.2,359.7v14M294.1,375.6h14M301.1,368.6v14M285.3,399.5h14M292.3,392.5v14M270.5,366.8h14M277.5,359.8v14M280.0,362.4h14M287.0,355.4v14M291.8,378.8h14M298.8,371.8v14M291.9,392.1h14M298.9,385.1v14M263.9,399.7h14M270.9,392.7v14M268.4,380.5h14M275.4,373.5v14M296.1,392.0h14M303.1,385.0v14M289.0,406.0h14M296.0,399.0v14M271.4,369.5h14M278.4,362.5v14M249.1,417.5h14M256.1,410.5v14M280.2,388.6h14M287.2,381.6v14M269.5,420.2h14M276.5,413.2v14M261.2,402.3h14M268.2,395.3v14M268.8,424.1h14M275.8,417.1v14M250.4,402.6h14M257.4,395.6v14M279.5,362.4h14M286.5,355.4v14M279.8,396.3h14M286.8,389.3v14M278.7,378.4h14M285.7,371.4v14M263.3,416.0h14M270.3,409.0v14M277.2,362.3h14M284.2,355.3v14M277.2,403.3h14M284.2,396.3v14M274.6,406.6h14M281.6,399.6v14M254.6,390.3h14M261.6,383.3v14M252.1,383.8h14M259.1,376.8v14M254.8,419.5h14M261.8,412.5v14M281.2,411.0h14M288.2,404.0v14M250.0,419.2h14M257.0,412.2v14M279.9,387.8h14M286.9,380.8v14M280.8,386.8h14M287.8,379.8v14M253.7,382.2h14M260.7,375.2v14M284.6,376.5h14M291.6,369.5v14M263.7,384.8h14M270.7,377.8v14M289.8,408.8h14M296.8,401.8v14M246.5,402.2h14M253.5,395.2v14M259.1,393.9h14M266.1,386.9v14M292.4,380.1h14M299.4,373.1v14M280.1,417.2h14M287.1,410.2v14M264.8,417.0h14M271.8,410.0v14M292.7,380.0h14M299.7,373.0v14M256.0,413.2h14M263.0,406.2v14M290.5,374.9h14M297.5,367.9v14M266.6,366.6h14M273.6,359.6v14M268.7,364.7h14M275.7,357.7v14M255.3,424.0h14M262.3,417.0v14M284.4,386.5h14M291.4,379.5v14M257.9,386.2h14M264.9,379.2v14M274.2,387.9h14M281.2,380.9v14M279.5,406.5h14M286.5,399.5v14M268.7,384.9h14M275.7,377.9v14M299.5,376.3h14M306.5,369.3v14M266.0,376.8h14M273.0,369.8v14M299.4,390.6h14M306.4,383.6v14M270.6,365.7h14M277.6,358.7v14M250.8,405.9h14M257.8,398.9v14M257.4,386.8h14M264.4,379.8v14M256.2,397.7h14M263.2,390.7v14M246.5,410.3h14M253.5,403.3v14M256.4,403.7h14M263.4,396.7v14M260.1,368.6h14M267.1,361.6v14M289.3,396.6h14M296.3,389.6v14M269.8,413.6h14M276.8,406.6v14M282.7,418.5h14M289.7,411.5v14M266.9,389.7h14M273.9,382.7v14M288.7,365.0h14M295.7,358.0v14M254.5,393.2h14M261.5,386.2v14M250.5,414.7h14M257.5,407.7v14M265.6,390.6h14M272.6,383.6v14M248.8,398.4h14M255.8,391.4v14M256.7,402.6h14M263.7,395.6v14M258.9,385.2h14M265.9,378.2v14M273.8,391.3h14M280.8,384.3v14M263.8,419.0h14M270.8,412.0v14M299.2,372.0h14M306.2,365.0v14M262.9,384.0h14M269.9,377.0v14M268.7,372.1h14M275.7,365.1v14M275.2,364.2h14M282.2,357.2v14M274.9,420.3h14M281.9,413.3v14M252.5,407.0h14M259.5,400.0v14M274.7,376.9h14M281.7,369.9v14M288.3,410.2h14M295.3,403.2v14M269.5,386.1h14M276.5,379.1v14M272.0,384.7h14M279.0,377.7v14M297.8,378.1h14M304.8,371.1v14M278.0,414.7h14M285.0,407.7v14M293.5,387.3h14M300.5,380.3v14M257.2,383.2h14M264.2,376.2v14M293.3,405.3h14M300.3,398.3v14M279.2,361.3h14M286.2,354.3v14M256.7,371.5h14M263.7,364.5v14M284.7,380.2h14M291.7,373.2v14M258.5,394.9h14M265.5,387.9v14M246.1,414.6h14M253.1,407.6v14M267.0,396.0h14M274.0,389.0v14M269.6,421.0h14M276.6,414.0v14M250.4,399.6h14M257.4,392.6v14M257.9,348.6h14M264.9,341.6v14M264.7,409.8h14M271.7,402.8v14M269.3,356.5h14M276.3,349.5v14M231.6,402.0h14M238.6,395.0v14M300.0,368.1h14M307.0,361.1v14M305.7,418.0h14M312.7,411.0v14M313.1,354.5h14M320.1,347.5v14M276.9,381.0h14M283.9,374.0v14M277.0,362.7h14M284.0,355.7v14M279.0,363.4h14M286.0,356.4v14M285.7,369.2h14M292.7,362.2v14M299.8,389.7h14M306.8,382.7v14M284.2,371.4h14M291.2,364.4v14M261.0,389.3h14M268.0,382.3v14M274.8,418.5h14M281.8,411.5v14M261.5,375.7h14M268.5,368.7v14M285.4,354.8h14M292.4,347.8v14M298.2,362.3h14M305.2,355.3v14M287.4,374.6h14M294.4,367.6v14M257.8,408.9h14M264.8,401.9v14M256.7,389.5h14M263.7,382.5v14M265.8,368.6h14M272.8,361.6v14M248.5,407.5h14M255.5,400.5v14M257.3,415.7h14M264.3,408.7v14M283.3,376.8h14M290.3,369.8v14M280.0,400.8h14M287.0,393.8v14M302.0,389.6h14M309.0,382.6v14M270.0,402.9h14M277.0,395.9v14M263.1,392.1h14M270.1,385.1v14M280.6,399.0h14M287.6,392.0v14M253.4,391.0h14M260.4,384.0v14M298.8,356.1h14M305.8,349.1v14M289.2,387.8h14M296.2,380.8v14M301.1,372.6h14M308.1,365.6v14M261.3,402.2h14M268.3,395.2v14M288.9,366.8h14M295.9,359.8v14M309.9,374.5h14M316.9,367.5v14M258.0,412.6h14M265.0,405.6v14M253.0,402.4h14M260.0,395.4v14M272.8,396.0h14M279.8,389.0v14M264.1,370.3h14M271.1,363.3v14M269.3,387.8h14M276.3,380.8v14M264.3,410.0h14M271.3,403.0v14M250.1,420.0h14M257.1,413.0v14M295.9,404.6h14M302.9,397.6v14M268.3,388.7h14M275.3,381.7v14M272.9,360.3h14M279.9,353.3v14M299.6,412.8h14M306.6,405.8v14M297.6,364.7h14M304.6,357.7v14M271.5,356.7h14M278.5,349.7v14M280.9,362.3h14M287.9,355.3v14M276.6,381.9h14M283.6,374.9v14M271.4,377.4h14M278.4,370.4v14M215.5,408.1h14M222.5,401.1v14M247.8,431.3h14M254.8,424.3v14M240.0,391.2h14M247.0,384.2v14M291.7,364.1h14M298.7,357.1v14M244.2,398.2h14M251.2,391.2v14M280.1,374.2h14M287.1,367.2v14M252.7,417.2h14M259.7,410.2v14M267.3,439.8h14M274.3,432.8v14M269.3,397.4h14M276.3,390.4v14M243.0,400.6h14M250.0,393.6v14M255.1,387.3h14M262.1,380.3v14M253.1,434.4h14M260.1,427.4v14M248.4,386.1h14M255.4,379.1v14M272.1,381.0h14M279.1,374.0v14M241.3,386.0h14M248.3,379.0v14M239.4,373.7h14M246.4,366.7v14M269.9,426.9h14M276.9,419.9v14M255.1,371.2h14M262.1,364.2v14M257.5,413.0h14M264.5,406.0v14M279.3,372.6h14M286.3,365.6v14M278.9,399.3h14M285.9,392.3v14M268.9,352.1h14M275.9,345.1v14M276.7,409.6h14M283.7,402.6v14M261.2,369.5h14M268.2,362.5v14M257.2,446.6h14M264.2,439.6v14M267.7,397.8h14M274.7,390.8v14M275.4,408.7h14M282.4,401.7v14M301.9,381.1h14M308.9,374.1v14M247.3,416.7h14M254.3,409.7v14M278.1,373.1h14M285.1,366.1v14M290.4,406.6h14M297.4,399.6v14M252.9,378.2h14M259.9,371.2v14M306.4,357.9h14M313.4,350.9v14M280.5,392.0h14M287.5,385.0v14M280.5,377.6h14M287.5,370.6v14M281.2,372.8h14M288.2,365.8v14M312.1,394.4h14M319.1,387.4v14M236.7,374.5h14M243.7,367.5v14M300.8,360.2h14M307.8,353.2v14M268.9,407.9h14M275.9,400.9v14M262.9,431.1h14M269.9,424.1v14M249.5,442.6h14M256.5,435.6v14M285.8,357.0h14M292.8,350.0v14M285.4,383.8h14M292.4,376.8v14M243.1,424.8h14M250.1,417.8v14M297.5,354.3h14M304.5,347.3v14M306.0,341.6h14M313.0,334.6v14M265.0,396.1h14M272.0,389.1v14M234.7,384.9h14M241.7,377.9v14M289.6,404.5h14M296.6,397.5v14M248.4,401.0h14M255.4,394.0v14M280.2,412.7h14M287.2,405.7v14M282.7,359.5h14M289.7,352.5v14M299.3,385.0h14M306.3,378.0v14M269.4,385.8h14M276.4,378.8v14M273.8,365.4h14M280.8,358.4v14M286.5,391.6h14M293.5,384.6v14M311.8,360.0h14M318.8,353.0v14M268.6,371.3h14M275.6,364.3v14M284.2,373.0h14M291.2,366.0v14M302.2,348.3h14M309.2,341.3v14M267.1,382.6h14M274.1,375.6v14M277.5,396.0h14M284.5,389.0v14M252.9,410.4h14M259.9,403.4v14M237.6,404.9h14M244.6,397.9v14M272.4,371.0h14M279.4,364.0v14M271.6,402.4h14M278.6,395.4v14M256.2,403.3h14M263.2,396.3v14M260.2,388.2h14M267.2,381.2v14M276.8,418.9h14M283.8,411.9v14M289.1,384.8h14M296.1,377.8v14M248.4,414.6h14M255.4,407.6v14M295.1,379.0h14M302.1,372.0v14M265.1,412.9h14M272.1,405.9v14M303.1,364.4h14M310.1,357.4v14M262.0,388.0h14M269.0,381.0v14M243.5,425.2h14M250.5,418.2v14M273.0,388.0h14M280.0,381.0v14M279.5,401.0h14M286.5,394.0v14M274.6,356.1h14M281.6,349.1v14M272.8,387.6h14M279.8,380.6v14M267.3,384.5h14M274.3,377.5v14M295.1,388.2h14M302.1,381.2v14M260.1,397.8h14M267.1,390.8v14M273.3,355.4h14M280.3,348.4v14M281.1,376.1h14M288.1,369.1v14M264.0,411.0h14M271.0,404.0v14M273.6,399.4h14M280.6,392.4v14M277.1,377.2h14M284.1,370.2v14M278.3,385.7h14M285.3,378.7v14M256.2,360.7h14M263.2,353.7v14M278.7,400.4h14M285.7,393.4v14M286.1,402.5h14M293.1,395.5v14M259.7,397.5h14M266.7,390.5v14M251.7,377.0h14M258.7,370.0v14M291.6,333.5h14M298.6,326.5v14M242.0,369.9h14M249.0,362.9v14M264.6,376.5h14M271.6,369.5v14M286.2,374.9h14M293.2,367.9v14M287.9,354.5h14M294.9,347.5v14M272.8,383.2h14M279.8,376.2v14M267.0,378.2h14M274.0,371.2v14M284.6,404.5h14M291.6,397.5v14M267.9,360.0h14M274.9,353.0v14M276.4,386.6h14M283.4,379.6v14M264.1,421.6h14M271.1,414.6v14M266.0,412.3h14M273.0,405.3v14M278.9,362.0h14M285.9,355.0v14M293.9,383.6h14M300.9,376.6v14M272.4,407.6h14M279.4,400.6v14M311.9,365.1h14M318.9,358.1v14M228.8,385.3h14M235.8,378.3v14M254.2,389.0h14M261.2,382.0v14M283.4,356.8h14M290.4,349.8v14M278.7,342.6h14M285.7,335.6v14M266.2,404.6h14M273.2,397.6v14M281.7,429.2h14M288.7,422.2v14M269.3,412.3h14M276.3,405.3v14M302.1,397.0h14M309.1,390.0v14M303.7,345.4h14M310.7,338.4v14M288.1,386.1h14M295.1,379.1v14M286.6,401.7h14M293.6,394.7v14M243.5,413.4h14M250.5,406.4v14M256.2,422.9h14M263.2,415.9v14M298.6,362.8h14M305.6,355.8v14M267.5,394.7h14M274.5,387.7v14M290.2,357.9h14M297.2,350.9v14M266.5,404.6h14M273.5,397.6v14M244.4,428.9h14M251.4,421.9v14M267.7,388.5h14M274.7,381.5v14M290.4,426.2h14M297.4,419.2v14M302.3,372.8h14M309.3,365.8v14M274.6,357.0h14M281.6,350.0v14M269.6,391.2h14M276.6,384.2v14M282.4,398.7h14M289.4,391.7v14M293.4,403.8h14M300.4,396.8v14M276.1,392.2h14M283.1,385.2v14M293.3,370.7h14M300.3,363.7v14M265.7,418.9h14M272.7,411.9v14M286.8,419.1h14M293.8,412.1v14M290.0,338.9h14M297.0,331.9v14M283.2,366.1h14M290.2,359.1v14M256.5,436.8h14M263.5,429.8v14M315.0,382.2h14M322.0,375.2v14M269.4,374.6h14M276.4,367.6v14M292.7,362.5h14M299.7,355.5v14M286.2,389.7h14M293.2,382.7v14M273.4,411.5h14M280.4,404.5v14M253.5,376.7h14M260.5,369.7v14M261.4,362.0h14M268.4,355.0v14M271.7,410.1h14M278.7,403.1v14M273.6,415.7h14M280.6,408.7v14M258.6,418.3h14M265.6,411.3v14M280.2,367.1h14M287.2,360.1v14M263.2,400.1h14M270.2,393.1v14M250.5,410.2h14M257.5,403.2v14M254.9,391.2h14M261.9,384.2v14M293.0,382.0h14M300.0,375.0v14M282.1,396.7h14M289.1,389.7v14M285.3,352.6h14M292.3,345.6v14M295.2,332.8h14M302.2,325.8v14M284.6,399.0h14M291.6,392.0v14M260.9,411.5h14M267.9,404.5v14M272.5,398.8h14M279.5,391.8v14M287.6,342.7h14M294.6,335.7v14M256.5,403.2h14M263.5,396.2v14M251.0,405.0h14M258.0,398.0v14M273.4,424.2h14M280.4,417.2v14M287.3,398.1h14M294.3,391.1v14M266.9,360.4h14M273.9,353.4v14M290.4,390.4h14M297.4,383.4v14M265.8,401.1h14M272.8,394.1v14M255.1,378.8h14M262.1,371.8v14M275.7,407.7h14M282.7,400.7v14M286.7,388.7h14M293.7,381.7v14M251.7,408.8h14M258.7,401.8v14M268.5,354.7h14M275.5,347.7v14M255.1,381.2h14M262.1,374.2v14M290.8,396.2h14M297.8,389.2v14M280.2,349.6h14M287.2,342.6v14M246.3,372.2h14M253.3,365.2v14M271.8,374.6h14M278.8,367.6v14M287.0,327.3h14M294.0,320.3v14M249.8,406.9h14M256.8,399.9v14M266.7,355.7h14M273.7,348.7v14M278.9,363.5h14M285.9,356.5v14M275.0,366.0h14M282.0,359.0v14M264.8,416.4h14M271.8,409.4v14M270.4,392.1h14M277.4,385.1v14M304.4,400.2h14M311.4,393.2v14M309.9,348.2h14M316.9,341.2v14M282.5,362.7h14M289.5,355.7v14M279.5,340.9h14M286.5,333.9v14M272.2,427.1h14M279.2,420.1v14M291.8,391.6h14M298.8,384.6v14M290.8,387.0h14M297.8,380.0v14M292.1,356.5h14M299.1,349.5v14M277.4,397.0h14M284.4,390.0v14M270.4,342.0h14M277.4,335.0v14M279.2,381.9h14M286.2,374.9v14M267.1,377.0h14M274.1,370.0v14M295.2,390.1h14M302.2,383.1v14M292.7,425.2h14M299.7,418.2v14M293.2,383.7h14M300.2,376.7v14M304.8,383.6h14M311.8,376.6v14M259.3,414.6h14M266.3,407.6v14M279.7,358.6h14M286.7,351.6v14M245.0,431.0h14M252.0,424.0v14M234.0,419.0h14M241.0,412.0v14M244.0,399.5h14M251.0,392.5v14M267.0,398.8h14M274.0,391.8v14M236.1,418.5h14M243.1,411.5v14M242.2,365.8h14M249.2,358.8v14M300.6,407.9h14M307.6,400.9v14M278.1,388.4h14M285.1,381.4v14M286.5,376.0h14M293.5,369.0v14M302.1,398.0h14M309.1,391.0v14M244.6,432.3h14M251.6,425.3v14M275.6,400.8h14M282.6,393.8v14M281.3,397.9h14M288.3,390.9v14M247.4,362.6h14M254.4,355.6v14M252.9,412.4h14M259.9,405.4v14M246.7,414.8h14M253.7,407.8v14M266.2,354.8h14M273.2,347.8v14M264.5,416.7h14M271.5,409.7v14M268.5,402.8h14M275.5,395.8v14M309.7,360.0h14M316.7,353.0v14M269.8,403.5h14M276.8,396.5v14M278.8,384.8h14M285.8,377.8v14M265.8,419.5h14M272.8,412.5v14M284.4,349.8h14M291.4,342.8v14M269.7,419.4h14M276.7,412.4v14M284.3,376.8h14M291.3,369.8v14M264.1,420.4h14M271.1,413.4v14M234.0,392.7h14M241.0,385.7v14M276.3,409.6h14M283.3,402.6v14M290.7,383.3h14M297.7,376.3v14M308.0,389.2h14M315.0,382.2v14M240.6,405.8h14M247.6,398.8v14M295.9,370.1h14M302.9,363.1v14M261.5,392.7h14M268.5,385.7v14M270.2,394.6h14M277.2,387.6v14M248.9,397.4h14M255.9,390.4v14M269.4,390.9h14M276.4,383.9v14M258.5,406.5h14M265.5,399.5v14M319.6,406.8h14M326.6,399.8v14M250.0,420.8h14M257.0,413.8v14M246.3,435.6h14M253.3,428.6v14M296.6,384.8h14M303.6,377.8v14M264.5,387.9h14M271.5,380.9v14M297.4,381.3h14M304.4,374.3v14M240.8,428.0h14M247.8,421.0v14M260.9,394.0h14M267.9,387.0v14M284.6,423.1h14M291.6,416.1v14M291.3,385.6h14M298.3,378.6v14M283.1,412.4h14M290.1,405.4v14M265.7,386.7h14M272.7,379.7v14M259.9,435.6h14M266.9,428.6v14M237.3,398.4h14M244.3,391.4v14M272.3,364.5h14M279.3,357.5v14M284.6,399.5h14M291.6,392.5v14M239.7,432.3h14M246.7,425.3v14M293.6,411.1h14M300.6,404.1v14M284.4,396.2h14M291.4,389.2v14M292.8,371.4h14M299.8,364.4v14M267.3,372.4h14M274.3,365.4v14M266.6,393.2h14M273.6,386.2v14M283.4,409.1h14M290.4,402.1v14M287.3,372.0h14M294.3,365.0v14M271.9,381.3h14M278.9,374.3v14M261.0,369.9h14M268.0,362.9v14M284.4,392.7h14M291.4,385.7v14M250.9,392.8h14M257.9,385.8v14M280.7,424.3h14M287.7,417.3v14M235.0,431.5h14M242.0,424.5v14M278.6,410.0h14M285.6,403.0v14M271.0,373.2h14M278.0,366.2v14M253.9,370.5h14M260.9,363.5v14M249.2,395.5h14M256.2,388.5v14M274.9,375.9h14M281.9,368.9v14M295.6,342.1h14M302.6,335.1v14M275.2,390.4h14M282.2,383.4v14M305.0,342.8h14M312.0,335.8v14M222.6,408.6h14M229.6,401.6v14M291.3,384.8h14M298.3,377.8v14M273.2,402.6h14M280.2,395.6v14M311.3,385.3h14M318.3,378.3v14M259.6,410.6h14M266.6,403.6v14M267.8,424.8h14M274.8,417.8v14M257.8,387.1h14M264.8,380.1v14M292.2,378.3h14M299.2,371.3v14M280.2,398.5h14M287.2,391.5v14M227.4,424.4h14M234.4,417.4v14M268.8,393.9h14M275.8,386.9v14M320.3,372.0h14M327.3,365.0v14M286.8,366.8h14M293.8,359.8v14M267.3,407.5h14M274.3,400.5v14M235.4,392.0h14M242.4,385.0v14M245.2,411.3h14M252.2,404.3v14M304.9,347.0h14M311.9,340.0v14M269.9,394.2h14M276.9,387.2v14M282.1,419.5h14M289.1,412.5v14M305.3,393.3h14M312.3,386.3v14M247.0,404.5h14M254.0,397.5v14M280.6,339.8h14M287.6,332.8v14M278.6,398.1h14M285.6,391.1v14M246.1,387.5h14M253.1,380.5v14M286.4,401.2h14M293.4,394.2v14M273.6,376.9h14M280.6,369.9v14M320.8,358.8h14M327.8,351.8v14M285.4,374.4h14M292.4,367.4v14M292.3,366.5h14M299.3,359.5v14M262.7,388.4h14M269.7,381.4v14M298.0,378.5h14M305.0,371.5v14M296.1,393.6h14M303.1,386.6v14M269.6,407.4h14M276.6,400.4v14M269.9,375.8h14M276.9,368.8v14M269.9,393.9h14M276.9,386.9v14M275.0,375.4h14M282.0,368.4v14M215.6,402.4h14M222.6,395.4v14M299.2,396.2h14M306.2,389.2v14M316.9,353.0h14M323.9,346.0v14M245.3,395.6h14M252.3,388.6v14M291.9,370.5h14M298.9,363.5v14M260.2,399.1h14M267.2,392.1v14M258.2,376.9h14M265.2,369.9v14M307.9,395.6h14M314.9,388.6v14M260.4,393.9h14M267.4,386.9v14M278.9,418.4h14M285.9,411.4v14M254.4,396.6h14M261.4,389.6v14M268.4,390.2h14M275.4,383.2v14M281.8,391.6h14M288.8,384.6v14M246.5,389.6h14M253.5,382.6v14M251.4,385.6h14M258.4,378.6v14M280.0,411.2h14M287.0,404.2v14M271.3,402.0h14M278.3,395.0v14M271.2,380.3h14M278.2,373.3v14M292.1,410.1h14M299.1,403.1v14M274.6,379.6h14M281.6,372.6v14M266.3,380.8h14M273.3,373.8v14M277.4,378.4h14M284.4,371.4v14M285.8,371.0h14M292.8,364.0v14M299.3,406.8h14M306.3,399.8v14M277.6,400.1h14M284.6,393.1v14M293.7,425.0h14M300.7,418.0v14M254.5,409.6h14M261.5,402.6v14M266.2,397.1h14M273.2,390.1v14M229.3,419.6h14M236.3,412.6v14M247.4,408.7h14M254.4,401.7v14M214.2,414.6h14M221.2,407.6v14M224.3,402.0h14M231.3,395.0v14M241.5,402.1h14M248.5,395.1v14M217.8,406.6h14M224.8,399.6v14M249.7,429.0h14M256.7,422.0v14M230.9,391.2h14M237.9,384.2v14M217.4,417.7h14M224.4,410.7v14M247.8,423.1h14M254.8,416.1v14M218.1,408.3h14M225.1,401.3v14M239.6,413.5h14M246.6,406.5v14M212.2,418.8h14M219.2,411.8v14M228.4,407.9h14M235.4,400.9v14M228.8,392.2h14M235.8,385.2v14M209.4,414.8h14M216.4,407.8v14M227.6,394.2h14M234.6,387.2v14M240.0,424.4h14M247.0,417.4v14M218.8,433.3h14M225.8,426.3v14M224.9,419.5h14M231.9,412.5v14M249.0,419.7h14M256.0,412.7v14M210.1,429.6h14M217.1,422.6v14M238.0,396.0h14M245.0,389.0v14M203.1,400.2h14M210.1,393.2v14M222.3,396.5h14M229.3,389.5v14M220.0,406.9h14M227.0,399.9v14M211.7,428.5h14M218.7,421.5v14M233.1,431.7h14M240.1,424.7v14M232.0,393.4h14M239.0,386.4v14M204.4,398.6h14M211.4,391.6v14M228.5,427.5h14M235.5,420.5v14M241.8,430.1h14M248.8,423.1v14M239.1,409.7h14M246.1,402.7v14M231.6,397.3h14M238.6,390.3v14M224.0,396.2h14M231.0,389.2v14M243.8,387.4h14M250.8,380.4v14M225.4,407.1h14M232.4,400.1v14M234.3,394.0h14M241.3,387.0v14M230.5,396.4h14M237.5,389.4v14M221.0,395.2h14M228.0,388.2v14M242.2,409.7h14M249.2,402.7v14M243.4,389.3h14M250.4,382.3v14M243.1,417.5h14M250.1,410.5v14M238.4,420.9h14M245.4,413.9v14M202.6,404.6h14M209.6,397.6v14M242.7,419.0h14M249.7,412.0v14M238.8,414.9h14M245.8,407.9v14M220.0,425.7h14M227.0,418.7v14M207.8,426.6h14M214.8,419.6v14M242.5,408.1h14M249.5,401.1v14M230.6,419.8h14M237.6,412.8v14M241.2,398.4h14M248.2,391.4v14M221.4,422.5h14M228.4,415.5v14M220.9,395.3h14M227.9,388.3v14M223.4,403.6h14M230.4,396.6v14M219.2,423.0h14M226.2,416.0v14M224.8,415.6h14M231.8,408.6v14M211.3,399.4h14M218.3,392.4v14M224.4,414.1h14M231.4,407.1v14M222.3,423.0h14M229.3,416.0v14M219.2,395.9h14M226.2,388.9v14M216.2,407.8h14M223.2,400.8v14M243.5,421.1h14M250.5,414.1v14M211.9,432.2h14M218.9,425.2v14M245.4,416.0h14M252.4,409.0v14M226.8,427.5h14M233.8,420.5v14M234.7,414.5h14M241.7,407.5v14M203.2,410.2h14M210.2,403.2v14M243.2,405.0h14M250.2,398.0v14M222.2,424.0h14M229.2,417.0v14M222.7,393.9h14M229.7,386.9v14M232.0,388.6h14M239.0,381.6v14M206.4,415.1h14M213.4,408.1v14M227.7,389.9h14M234.7,382.9v14M243.8,426.5h14M250.8,419.5v14M205.1,401.8h14M212.1,394.8v14M213.3,416.6h14M220.3,409.6v14M226.6,411.9h14M233.6,404.9v14M244.1,412.7h14M251.1,405.7v14M229.6,420.5h14M236.6,413.5v14M212.7,421.1h14M219.7,414.1v14M247.4,414.7h14M254.4,407.7v14M246.6,399.9h14M253.6,392.9v14M216.8,412.4h14M223.8,405.4v14M203.9,410.1h14M210.9,403.1v14M206.1,413.6h14M213.1,406.6v14M218.2,401.0h14M225.2,394.0v14M232.1,408.2h14M239.1,401.2v14M235.4,401.8h14M242.4,394.8v14M236.6,416.0h14M243.6,409.0v14M239.6,399.0h14M246.6,392.0v14M216.9,409.1h14M223.9,402.1v14M242.4,430.4h14M249.4,423.4v14M237.9,398.1h14M244.9,391.1v14M221.1,421.6h14M228.1,414.6v14M245.7,430.7h14M252.7,423.7v14M219.6,400.6h14M226.6,393.6v14M238.2,409.1h14M245.2,402.1v14M243.0,405.9h14M250.0,398.9v14M208.5,403.5h14M215.5,396.5v14M228.4,419.7h14M235.4,412.7v14M219.8,432.6h14M226.8,425.6v14M208.3,403.7h14M215.3,396.7v14M244.0,429.7h14M251.0,422.7v14M213.0,431.7h14M220.0,424.7v14M217.6,431.3h14M224.6,424.3v14M240.2,420.4h14M247.2,413.4v14M230.1,411.5h14M237.1,404.5v14M236.0,392.7h14M243.0,385.7v14M218.2,403.7h14M225.2,396.7v14M207.2,415.3h14M214.2,408.3v14M228.6,391.6h14M235.6,384.6v14M244.4,388.2h14M251.4,381.2v14M219.8,393.9h14M226.8,386.9v14M239.2,393.2h14M246.2,386.2v14M204.3,424.8h14M211.3,417.8v14M219.3,421.4h14M226.3,414.4v14M236.7,427.5h14M243.7,420.5v14M218.4,424.1h14M225.4,417.1v14M227.0,425.1h14M234.0,418.1v14" stroke="#D55E00" stroke-width="1.3" fill="none" clip-path="url(#ax)"/>
<path d="M543.5,338.3h14M550.5,331.3v14M543.5,351.0h14M550.5,344.0v14M446.2,360.4h14M453.2,353.4v14M455.8,376.4h14M462.8,369.4v14M421.0,393.5h14M428.0,386.5v14M471.5,389.9h14M478.5,382.9v14M481.0,399.5h14M488.0,392.5v14M446.2,410.3h14M453.2,403.3v14M461.6,431.9h14M468.6,424.9v14M421.0,455.6h14M428.0,448.6v14M456.0,502.2h14M463.0,495.2v14M459.6,502.8h14M466.6,495.8v14M458.9,505.8h14M465.9,498.8v14M477.2,502.0h14M484.2,495.0v14M477.2,505.8h14M484.2,498.8v14M443.0,520.7h14M450.0,513.7v14M445.4,528.1h14M452.4,521.1v14M459.0,527.4h14M466.0,520.4v14M439.4,536.2h14M446.4,529.2v14M445.4,534.9h14M452.4,527.9v14M446.1,544.7h14M453.1,537.7v14M461.6,537.2h14M468.6,530.2v14M471.5,534.9h14M478.5,527.9v14M476.5,539.6h14M483.5,532.6v14M489.1,525.8h14M496.1,518.8v14M489.1,536.9h14M496.1,529.9v14M467.5,547.0h14M474.5,540.0v14M477.2,549.7h14M484.2,542.7v14M436.2,551.8h14M443.2,544.8v14M489.1,556.5h14M496.1,549.5v14M388.3,498.0h14M395.3,491.0v14M403.8,529.5h14M410.8,522.5v14M355.9,541.4h14M362.9,534.4v14M291.0,510.6h14M298.0,503.6v14" stroke="#E69F00" stroke-width="1.3" fill="none" clip-path="url(#ax)"/>
<path d="M501.6,277.9h14M508.6,270.9v14M515.0,277.9h14M522.0,270.9v14M518.2,288.9h14M525.2,281.9v14M505.4,301.2h14M512.4,294.2v14M509.8,300.3h14M516.8,293.3v14M514.2,309.9h14M521.2,302.9v14M525.6,302.9h14M532.6,295.9v14M534.3,295.0h14M541.3,288.0v14M539.6,300.3h14M546.6,293.3v14M544.0,302.0h14M551.0,295.0v14M547.5,309.9h14M554.5,302.9v14M555.3,307.7h14M562.3,300.7v14M487.9,309.4h14M494.9,302.4v14M527.3,316.1h14M534.3,309.1v14M535.2,320.4h14M542.2,313.4v14M549.2,321.7h14M556.2,314.7v14M492.3,324.5h14M499.3,317.5v14M486.1,330.1h14M493.1,323.1v14M515.9,330.1h14M522.9,323.1v14M525.6,330.1h14M532.6,323.1v14M504.5,337.1h14M511.5,330.1v14M489.6,345.8h14M496.6,338.8v14M495.8,345.8h14M502.8,338.8v14M489.6,352.9h14M496.6,345.9v14M497.5,352.9h14M504.5,345.9v14M503.7,351.1h14M510.7,344.1v14M513.3,349.3h14M520.3,342.3v14M529.1,355.5h14M536.1,348.5v14M544.0,356.4h14M551.0,349.4v14M562.3,356.4h14M569.3,349.4v14M570.2,356.4h14M577.2,349.4v14M579.0,352.9h14M586.0,345.9v14M562.3,360.7h14M569.3,353.7v14M436.6,412.4h14M443.6,405.4v14M463.4,428.3h14M470.4,421.3v14M469.7,422.9h14M476.7,415.9v14M470.6,419.3h14M477.6,412.3v14M474.7,428.6h14M481.7,421.6v14M506.1,437.8h14M513.1,430.8v14M533.4,342.9h14M540.4,335.9v14M523.9,329.8h14M530.9,322.8v14M530.8,347.2h14M537.8,340.2v14M531.5,338.8h14M538.5,331.8v14M524.9,332.9h14M531.9,325.9v14M533.6,340.8h14M540.6,333.8v14M530.1,345.3h14M537.1,338.3v14M530.5,337.7h14M537.5,330.7v14M548.0,343.8h14M555.0,336.8v14M527.0,337.9h14M534.0,330.9v14M534.6,337.5h14M541.6,330.5v14M528.6,329.5h14M535.6,322.5v14M528.4,343.7h14M535.4,336.7v14M537.6,338.4h14M544.6,331.4v14M528.6,334.7h14M535.6,327.7v14M524.0,340.0h14M531.0,333.0v14M524.8,335.7h14M531.8,328.7v14M534.0,350.1h14M541.0,343.1v14M529.0,341.5h14M536.0,334.5v14M540.2,348.5h14M547.2,341.5v14M546.6,334.2h14M553.6,327.2v14M538.4,325.1h14M545.4,318.1v14M538.0,340.0h14M545.0,333.0v14M541.0,342.0h14M548.0,335.0v14M523.0,343.0h14M530.0,336.0v14M520.0,335.0h14M527.0,328.0v14M533.0,333.0h14M540.0,326.0v14M526.0,325.0h14M533.0,318.0v14M531.0,322.0h14M538.0,315.0v14M521.0,330.0h14M528.0,323.0v14M538.0,352.0h14M545.0,345.0v14M549.0,357.0h14M556.0,350.0v14M567.0,356.0h14M574.0,349.0v14M576.0,357.0h14M583.0,350.0v14" stroke="#009E73" stroke-width="1.3" fill="none" clip-path="url(#ax)"/>
<path d="M258.80,151.40L260.88,156.23L266.12,156.72L262.17,160.19L263.33,165.33L258.80,162.64L254.27,165.33L255.43,160.19L251.48,156.72L256.72,156.23Z" fill="#000" stroke="#000" stroke-width="1.2" stroke-linejoin="round"/>
<text x="189.72" y="82.80" font-family="Liberation Sans, sans-serif" font-size="19.1" fill="#0072B2" textLength="47.19" lengthAdjust="spacingAndGlyphs">FRBs</text>
<text x="270.37" y="180.00" font-family="Liberation Sans, sans-serif" font-size="19.1" fill="#000000" textLength="105.16" lengthAdjust="spacingAndGlyphs">ST 200428A</text>
<text x="524.54" y="70.00" font-family="Liberation Sans, sans-serif" font-size="19.1" fill="#CC79A7" textLength="40.66" lengthAdjust="spacingAndGlyphs">AGN</text>
<text x="465.68" y="154.60" font-family="Liberation Sans, sans-serif" font-size="19.1" fill="#56B4E9" textLength="97.79" lengthAdjust="spacingAndGlyphs">SNe, GRBs</text>
<text x="173.74" y="293.80" font-family="Liberation Sans, sans-serif" font-size="19.1" fill="#555555" textLength="49.87" lengthAdjust="spacingAndGlyphs">GRPs</text>
<text x="564.14" y="389.10" font-family="Liberation Sans, sans-serif" font-size="19.1" fill="#009E73" textLength="81.61" lengthAdjust="spacingAndGlyphs">Accretors</text>
<text x="141.47" y="478.50" font-family="Liberation Sans, sans-serif" font-size="19.1" fill="#D55E00" textLength="196.32" lengthAdjust="spacingAndGlyphs">Rotation-powered NSs</text>
<text x="497.96" y="484.40" font-family="Liberation Sans, sans-serif" font-size="19.1" fill="#E69F00" textLength="45.13" lengthAdjust="spacingAndGlyphs">Stars</text>
<text x="85.43" y="420.70" font-family="Liberation Sans, sans-serif" font-size="19.1" fill="#999999">10<tspan font-size="13.0" dy="-6.5">32</tspan><tspan dy="6.5"> K</tspan></text>
<text x="85.43" y="590.10" font-family="Liberation Sans, sans-serif" font-size="19.1" fill="#999999">10<tspan font-size="13.0" dy="-6.5">24</tspan><tspan dy="6.5"> K</tspan></text>
<text x="215.43" y="590.10" font-family="Liberation Sans, sans-serif" font-size="19.1" fill="#999999">10<tspan font-size="13.0" dy="-6.5">16</tspan><tspan dy="6.5"> K</tspan></text>
<text x="347.07" y="590.10" font-family="Liberation Sans, sans-serif" font-size="19.1" fill="#999999">10<tspan font-size="13.0" dy="-6.5">8</tspan><tspan dy="6.5"> K</tspan></text>
<text x="476.37" y="590.10" font-family="Liberation Sans, sans-serif" font-size="19.1" fill="#999999">10<tspan font-size="13.0" dy="-6.5">0</tspan><tspan dy="6.5"> K</tspan></text>
<text x="294.88" y="661.70" font-family="Liberation Sans, sans-serif" font-size="18.9" fill="#000000" textLength="133.21" lengthAdjust="spacingAndGlyphs">log[Duration (s)]</text>
<text transform="translate(16.2,473.98) rotate(-90)" x="0" y="0" font-family="Liberation Sans, sans-serif" font-size="19.15" fill="#000000">log[Spectral luminosity (erg s<tspan font-size="13.0" dy="-6.5">−1</tspan><tspan dy="6.5"> Hz</tspan><tspan font-size="13.0" dy="-6.5">−1</tspan><tspan dy="6.5">)]</tspan></text>
<text x="38.55" y="578.05" font-family="Liberation Sans, sans-serif" font-size="19.1" fill="#000">10</text>
<text x="38.41" y="472.38" font-family="Liberation Sans, sans-serif" font-size="19.1" fill="#000">15</text>
<text x="38.35" y="366.71" font-family="Liberation Sans, sans-serif" font-size="19.1" fill="#000">20</text>
<text x="38.21" y="261.04" font-family="Liberation Sans, sans-serif" font-size="19.1" fill="#000">25</text>
<text x="38.35" y="155.37" font-family="Liberation Sans, sans-serif" font-size="19.1" fill="#000">30</text>
<text x="38.21" y="49.70" font-family="Liberation Sans, sans-serif" font-size="19.1" fill="#000">35</text>
<text x="188.20" y="636.30" font-family="Liberation Sans, sans-serif" font-size="19.1" fill="#000">−5</text>
<text x="357.05" y="636.30" font-family="Liberation Sans, sans-serif" font-size="19.1" fill="#000">0</text>
<text x="518.75" y="636.30" font-family="Liberation Sans, sans-serif" font-size="19.1" fill="#000">5</text>
<path d="M71.0,0.7H684.3V609.4H71.0Z" stroke="#000" stroke-width="1.5" fill="none"/>
</svg>
</body></html>
